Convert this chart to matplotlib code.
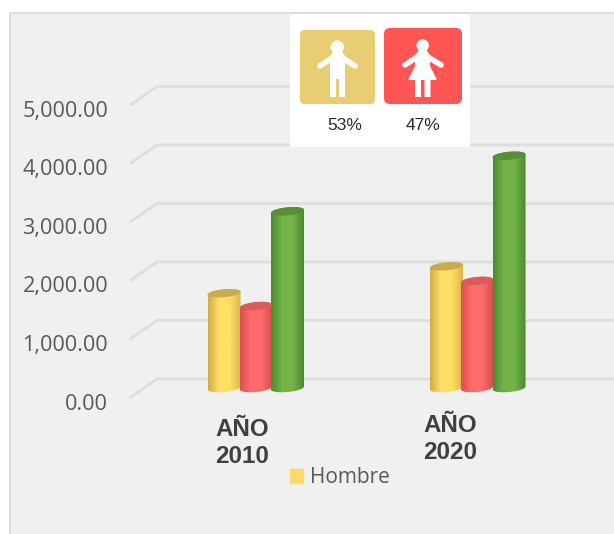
import numpy as np
import matplotlib
matplotlib.use('Agg')
import matplotlib.pyplot as plt
from matplotlib.colors import LinearSegmentedColormap
from matplotlib.patches import Patch, PathPatch, Rectangle, FancyBboxPatch, Circle, Polygon
from matplotlib.path import Path

# values
categories = ['AÑO\n2010', 'AÑO\n2020']
hombre = [1620, 2080]
mujer = [1400, 1830]
total = [3020, 3970]
tick_values = [0, 1000, 2000, 3000, 4000, 5000]
tick_labels = ['0.00', '1,000.00', '2,000.00', '3,000.00', '4,000.00', '5,000.00']
percent_labels = ['53%', '47%']

W, H = 614, 534
PX_PER_UNIT = 0.0585
BASE_PX = 388
GREY = '#595959'

fig = plt.figure(figsize=(W / 100, H / 100), dpi=100, facecolor='white')

# main axes: x in pixels, y in data values
ax = fig.add_axes([0, 0, 1, 1], facecolor='none')
ylim = ((BASE_PX - H) / PX_PER_UNIT, BASE_PX / PX_PER_UNIT)


def val(px):
    return px / PX_PER_UNIT


def draw_cylinder(cx, value, half_w, cols, top_col):
    a = half_w
    b = val(4)
    tilt = val(1.5)
    t1 = np.linspace(np.pi, 2 * np.pi, 40)
    t2 = np.linspace(0, np.pi, 40)
    xs = np.r_[cx + a * np.cos(t1), cx + a * np.cos(t2)]
    ys = np.r_[b * np.sin(t1) + tilt * np.cos(t1), value + b * np.sin(t2) + tilt * np.cos(t2)]
    body = Path(np.c_[xs, ys], closed=False)
    cmap = LinearSegmentedColormap.from_list('c', cols)
    grad = np.linspace(0, 1, 64).reshape(1, -1)
    im = ax.imshow(grad, extent=[cx - a, cx + a, ylim[0], ylim[1]], aspect='auto',
                   cmap=cmap, zorder=3, interpolation='bilinear')
    im.set_clip_path(PathPatch(body, transform=ax.transData))
    t = np.linspace(0, 2 * np.pi, 80)
    ax.fill(cx + a * np.cos(t), value + b * np.sin(t) + tilt * np.cos(t),
            color=top_col, lw=0, zorder=3.5)


# gridlines with the little 3d step on the left
for v in tick_values:
    ax.plot([131, 157, W], [v - val(9), v + val(9), v + val(9)], color='#dddddd', lw=2, zorder=1)

for v, label in zip(tick_values, tick_labels):
    ax.annotate(label, xy=(108, v), xytext=(0, -16), textcoords='offset pixels',
                ha='right', va='center', fontsize=15.6, color=GREY, family='Open Sans')

yellow = ['#d2ac47', '#ffdf66', '#ffdf66', '#dcb64c']
red = ['#d8504f', '#ff6b6b', '#ff6b6b', '#d4514f']
green = ['#4f8a30', '#74b349', '#74b349', '#4a8a2c']
group_x = [[224, 256, 287.5], [446.5, 477, 509]]

for i in range(len(categories)):
    xs = group_x[i]
    draw_cylinder(xs[0], hombre[i], 16.5, yellow, '#c9aa4e')
    draw_cylinder(xs[1], mujer[i], 16, red, '#d95c5a')
    draw_cylinder(xs[2], total[i], 16.5, green, '#578f38')

# category labels
label_px = [(242, 443), (450, 439)]
for cat, (x, y) in zip(categories, label_px):
    ax.text(x, (BASE_PX - y) / PX_PER_UNIT, cat, ha='center', va='center', fontsize=17.4,
            fontweight='bold', color='#404040', family='Liberation Sans', linespacing=1.17, zorder=4)

ax.set_xlim(0, W)
ax.set_ylim(*ylim)
ax.axis('off')

leg = ax.legend(handles=[Patch(color='#ffd966', label='Hombre')], loc='center left',
                bbox_to_anchor=(273 / W, 1 - 477.5 / H), frameon=False, handlelength=0.66,
                handleheight=0.66, handletextpad=0.33, borderpad=0.3,
                prop={'family': 'Open Sans', 'size': 15})
leg.get_texts()[0].set_color(GREY)

# overlay in plain pixel coords for the page background and the icon panel
deco = fig.add_axes([0, 0, 1, 1], facecolor='none', zorder=-1)
deco.set_xlim(0, W)
deco.set_ylim(H, 0)
deco.axis('off')
deco.add_patch(Rectangle((10, 13), W, H, facecolor='#f0f0f0', edgecolor='#dcdcdc', lw=1.5))

icons = fig.add_axes([0, 0, 1, 1], facecolor='none', zorder=2)
icons.set_xlim(0, W)
icons.set_ylim(H, 0)
icons.axis('off')
icons.add_patch(Rectangle((290, 14), 180, 133, facecolor='white', lw=0))
icons.add_patch(FancyBboxPatch((303, 33), 69, 68, boxstyle='round,pad=3,rounding_size=5',
                               facecolor='#e8cd73', lw=0))
icons.add_patch(FancyBboxPatch((387, 31), 72, 70, boxstyle='round,pad=3,rounding_size=6',
                               facecolor='#ff5555', lw=0))

# man
icons.add_patch(Circle((337.3, 47), 6.6, facecolor='white', lw=0))
icons.add_patch(Polygon([(334, 50), (341, 50), (345, 56), (345, 97), (339, 97), (339, 79),
                         (336, 79), (336, 97), (330, 97), (330, 56)], facecolor='white', lw=0))
icons.plot([320, 332, 343, 355], [66, 58, 58, 66], color='white', lw=4, solid_capstyle='round')

# woman
icons.add_patch(Circle((422.7, 45.5), 6.2, facecolor='white', lw=0))
icons.add_patch(Polygon([(420, 49), (425.5, 49), (430, 55), (430, 66), (437, 80), (430.5, 80),
                         (430.5, 97), (424.5, 97), (424.5, 80), (421, 80), (421, 97), (415, 97),
                         (415, 80), (408, 80), (415, 66), (415, 55)], facecolor='white', lw=0))
icons.plot([405, 417, 428, 441], [65, 57, 57, 65], color='white', lw=4, solid_capstyle='round')

for x, s in zip([345, 423], percent_labels):
    icons.text(x, 125, s, ha='center', va='center', fontsize=12.5, color='#2a2a2a',
               family='Liberation Sans')

fig.savefig('out.png', dpi=100, facecolor='white')
